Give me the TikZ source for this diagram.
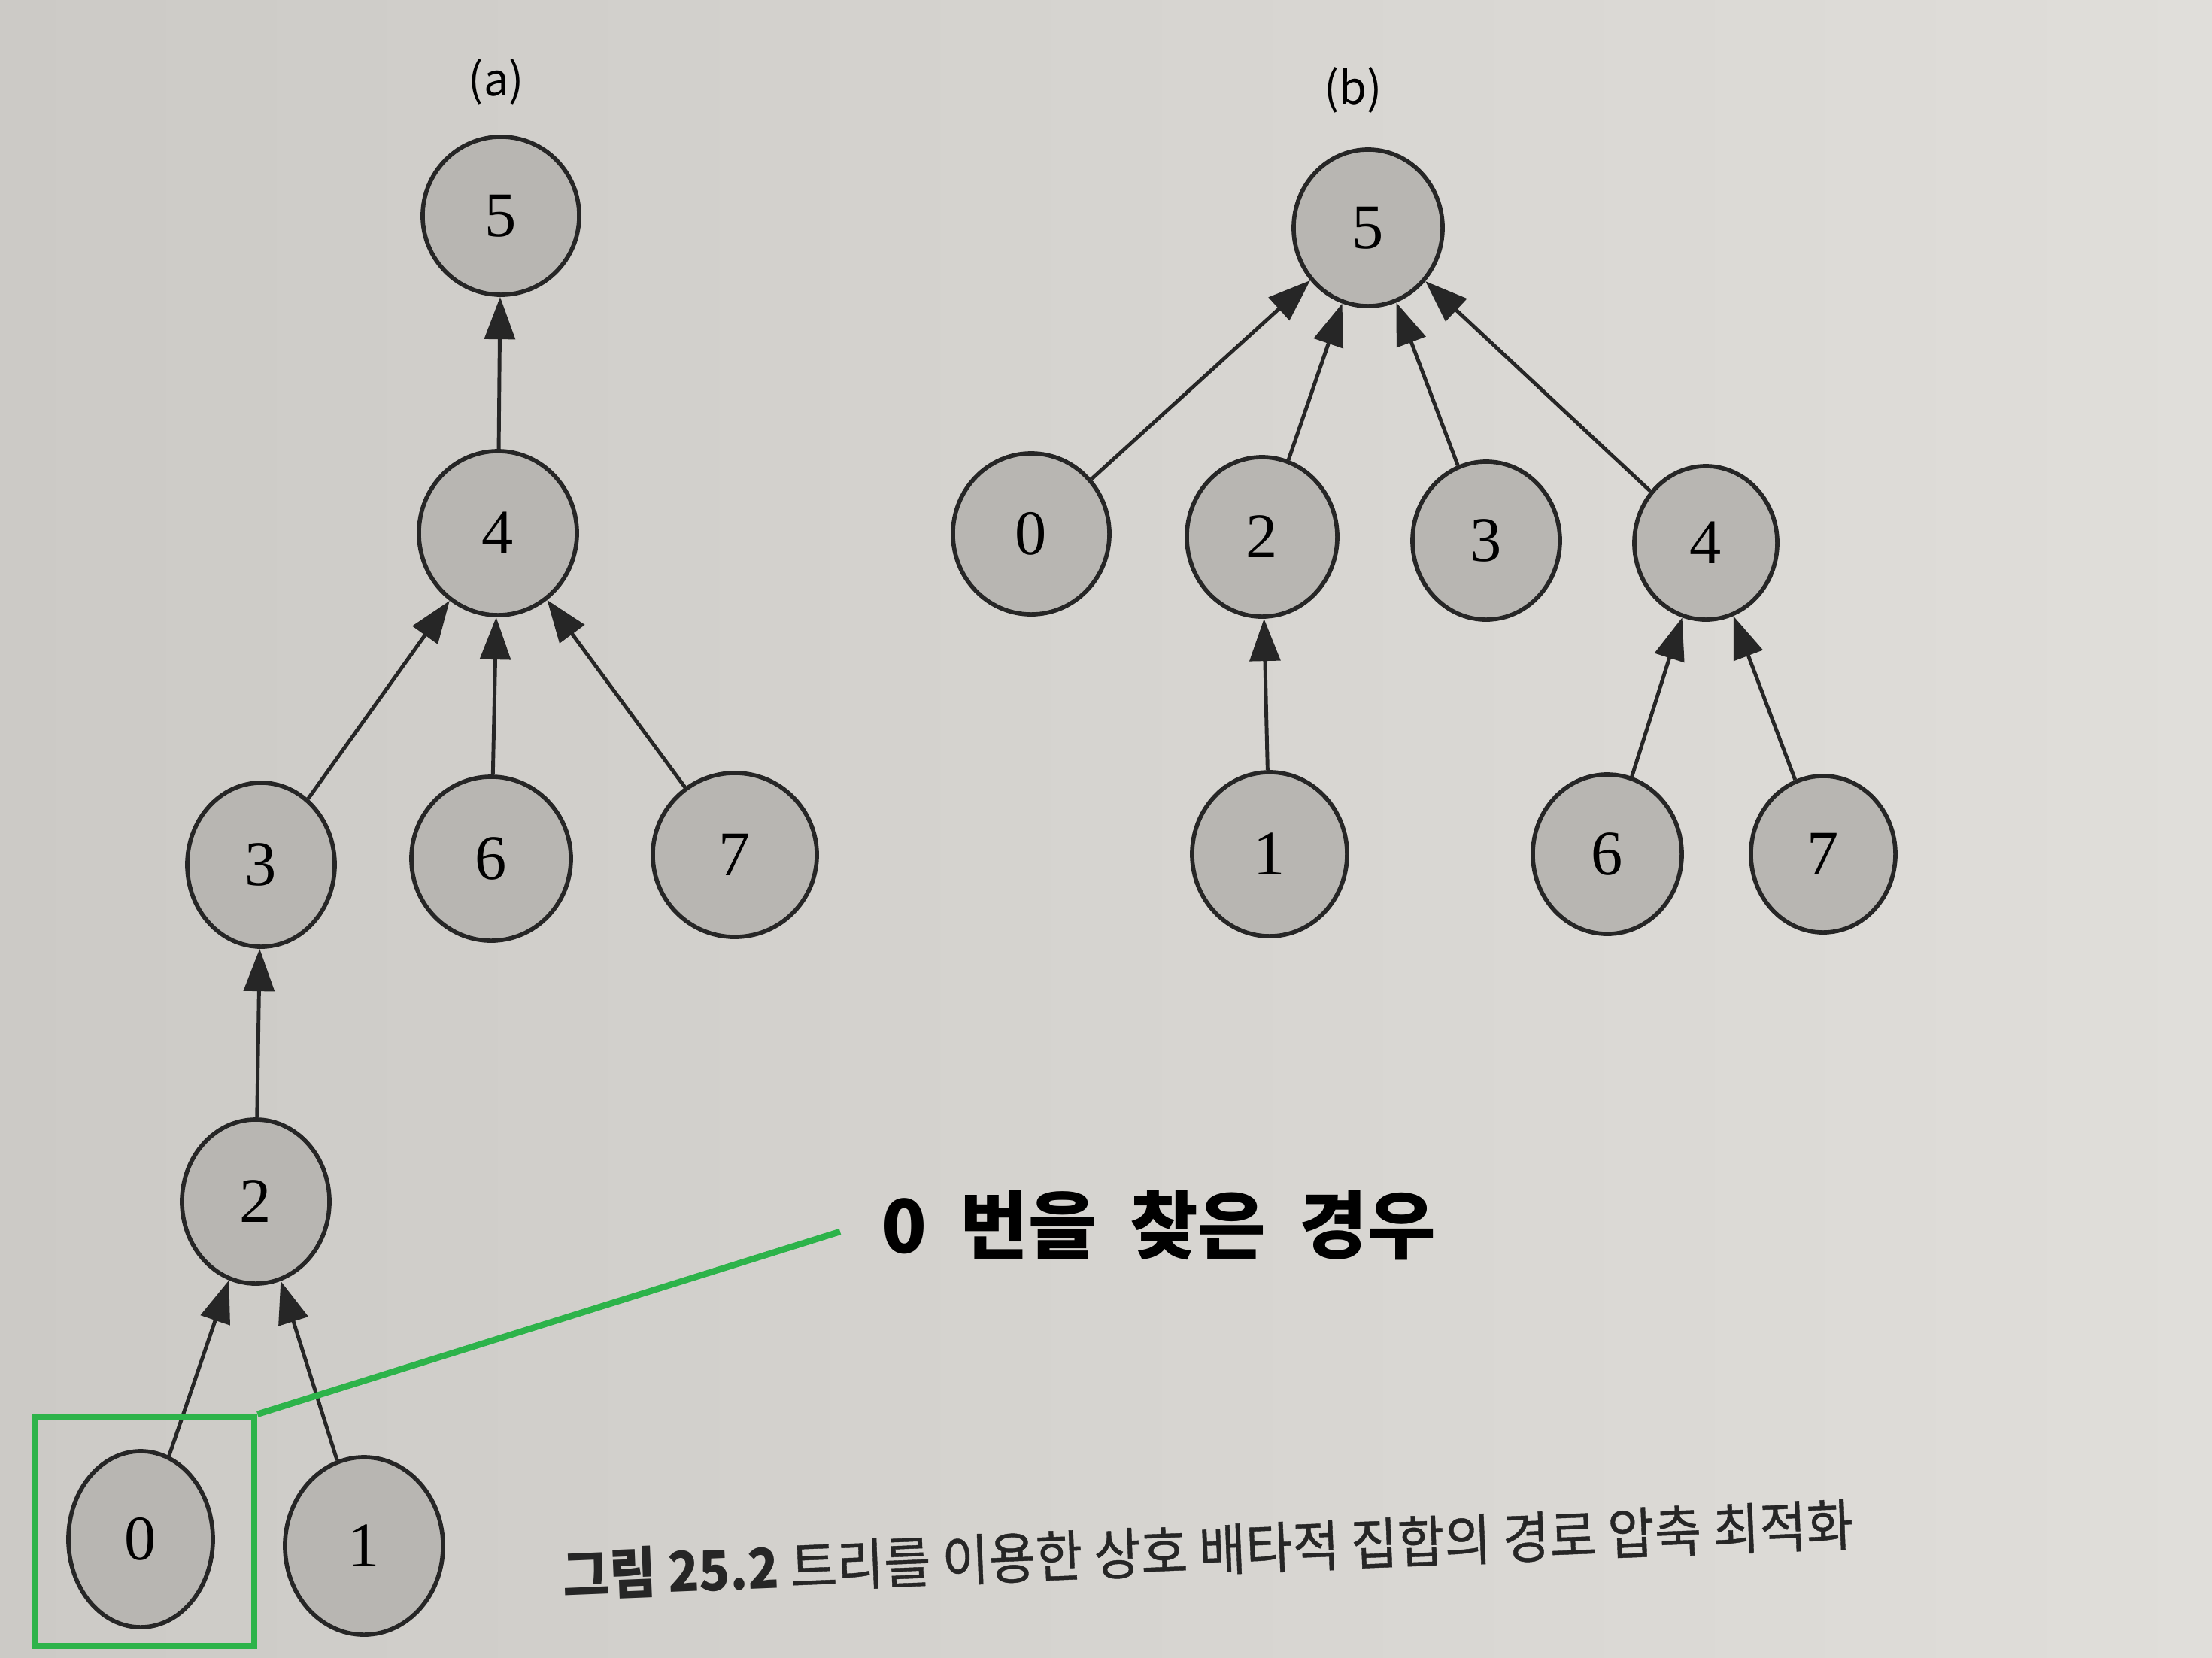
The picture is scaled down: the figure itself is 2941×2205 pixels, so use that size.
\documentclass[tikz,border=0pt]{standalone}
\usepackage{fontspec}
\usepackage{graphicx}
\setmainfont{Liberation Serif}
\newfontfamily\kr{Noto Sans CJK KR}
\newfontfamily\krmed{Noto Sans CJK KR}[FakeBold=0.6]
\usetikzlibrary{shapes.geometric,arrows.meta}
\definecolor{paperL}{RGB}{204,202,198}
\definecolor{paperR}{RGB}{224,222,218}
\definecolor{nodefill}{RGB}{184,182,178}
\definecolor{mark}{RGB}{45,179,74}
\tikzset{
  nd/.style 2 args={ellipse, draw=black!85, line width=1.6pt, fill=nodefill,
    minimum width=#1cm, minimum height=#2cm, inner sep=0pt,
    font=\fontsize{24}{24}\selectfont},
  edge/.style={line width=1.4pt, draw=black!85, -{Triangle[length=16pt,width=11.5pt]}},
  lbl/.style={font=\kr\fontsize{17}{17}\selectfont},
  hl/.style={draw=mark, line width=2.4pt}
}
\begin{document}
\begin{tikzpicture}[x=0.01cm,y=-0.01cm]
\shade[left color=paperL, right color=paperR] (0,0) rectangle (2941,2205);
\useasboundingbox (0,0) rectangle (2941,2205);
% labels
\node[lbl] (la) at (660,109) {(a)};
\node[lbl] (lb) at (1799,120) {(b)};
% tree (a)
\node[nd={2.08}{2.10}] (a5) at (666,287) {5};
\node[nd={2.10}{2.18}] (a4) at (662,709) {4};
\node[nd={1.96}{2.18}] (a3) at (347,1150) {3};
\node[nd={2.12}{2.18}] (a6) at (653,1142) {6};
\node[nd={2.18}{2.18}] (a7) at (977,1137) {7};
\node[nd={1.96}{2.18}] (a2) at (340,1598) {2};
\node[nd={1.92}{2.34}] (a0) at (187,2047) {0};
\node[nd={2.10}{2.36}] (a1) at (484,2056) {1};
\draw[edge] (a4) -- (a5);
\draw[edge] (a3) -- (a4);
\draw[edge] (a6) -- (a4);
\draw[edge] (a7) -- (a4);
\draw[edge] (a2) -- (a3);
\draw[edge] (a0) -- (a2);
\draw[edge] (a1) -- (a2);
% tree (b)
\node[nd={1.98}{2.08}] (b5) at (1819,303) {5};
\node[nd={2.08}{2.14}] (b0) at (1371,710) {0};
\node[nd={2.00}{2.12}] (b2) at (1678,714) {2};
\node[nd={1.96}{2.10}] (b3) at (1976,719) {3};
\node[nd={1.90}{2.04}] (b4) at (2268,722) {4};
\node[nd={2.06}{2.18}] (b1) at (1688,1136) {1};
\node[nd={1.98}{2.12}] (b6) at (2137,1136) {6};
\node[nd={1.92}{2.08}] (b7) at (2424,1136) {7};
\draw[edge] (b0) -- (b5);
\draw[edge] (b2) -- (b5);
\draw[edge] (b3) -- (b5);
\draw[edge] (b4) -- (b5);
\draw[edge] (b1) -- (b2);
\draw[edge] (b6) -- (b4);
\draw[edge] (b7) -- (b4);
% highlight
\node[hl, minimum width=2.91cm, minimum height=3.04cm, inner sep=0pt] (box) at (192.5,2037) {};
\coordinate (lineend) at (1117,1638);
\draw[hl] (box.north east) -- (lineend);
\node[anchor=west, inner sep=0pt, font=\kr\bfseries\fontsize{28}{28}\selectfont] (note) at (1172,1630)
  {0\hspace{0.45em}번을\hspace{0.45em}찾은\hspace{0.45em}경우};
% caption
\node[rotate=2.3, font=\krmed\fontsize{21}{21}\selectfont, text=black!85] (cap) at (1606,2061)
  {\scalebox{0.917}[1]{{\kr\bfseries 그림 25.2} 트리를 이용한 상호 배타적 집합의 경로 압축 최적화}};
\end{tikzpicture}
\end{document}
